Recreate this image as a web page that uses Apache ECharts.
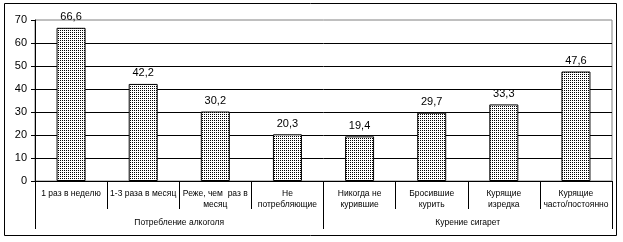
<!DOCTYPE html>
<html><head><meta charset="utf-8">
<script src="https://cdn.jsdelivr.net/npm/echarts@6/dist/echarts.min.js"></script>
<style>html,body{margin:0;padding:0;background:#fff;}#c{width:623px;height:242px;}</style>
</head><body><div id="c"></div>
<script>
const categories = ["1 раз в неделю","1-3 раза в месяц","Реже, чем  раз в\nмесяц","Не\nпотребляющие","Никогда не\nкурившие","Бросившие\nкурить","Курящие\nизредка","Курящие\nчасто/постоянно"];
const groups = ["Потребление алкоголя","Курение сигарет"];
const values = [66.6, 42.2, 30.2, 20.3, 19.4, 29.7, 33.3, 47.6];
const yTicks = {min:0, max:70, interval:10};

const pc = document.createElement('canvas');
pc.width = 2; pc.height = 2;
const ctx = pc.getContext('2d');
ctx.fillStyle = '#fff'; ctx.fillRect(0,0,2,2);
ctx.fillStyle = '#000'; ctx.fillRect(0,0,1,1);

const font = '"Liberation Sans", Arial, sans-serif';
const chart = echarts.init(document.getElementById('c'), null, {renderer:'canvas'});
chart.setOption({
  animation:false,
  backgroundColor:'#fff',
  graphic:[{type:'rect', shape:{x:4.5,y:3.5,width:612,height:232}, style:{fill:'none',stroke:'#000',lineWidth:1}, silent:true}],
  grid:{left:35, right:11, top:20, bottom:61, show:true, borderColor:'#808080', borderWidth:1},
  xAxis:[{
    type:'category', data:categories, position:'bottom',
    axisLine:{show:true, lineStyle:{color:'#000', width:1}},
    axisTick:{show:true, length:28, interval:0, lineStyle:{color:'#000'}},
    axisLabel:{interval:0, margin:7, fontSize:8.5, color:'#000', fontFamily:font, lineHeight:11}
  },{
    type:'category', data:groups, position:'bottom',
    axisLine:{show:false},
    axisTick:{show:true, length:48, interval:0, lineStyle:{color:'#000'}},
    axisLabel:{interval:0, margin:37, fontSize:8.5, color:'#000', fontFamily:font}
  }],
  yAxis:{
    type:'value', min:yTicks.min, max:yTicks.max, interval:yTicks.interval,
    axisLine:{show:true, lineStyle:{color:'#000'}},
    axisTick:{show:true, length:4, lineStyle:{color:'#000'}},
    axisLabel:{fontSize:11, color:'#000', fontFamily:font, margin:8},
    splitLine:{show:true, showMaxLine:false, lineStyle:{color:'#000', width:1}}
  },
  series:[{
    type:'bar', data:values, xAxisIndex:0, barWidth:29,
    itemStyle:{color:{image:pc, repeat:'repeat'}, borderColor:'#000', borderWidth:1},
    label:{show:true, position:'top', distance:5, fontSize:11, color:'#000', fontFamily:font,
      formatter:p=>String(p.value).replace('.',',')}
  }]
});
</script></body></html>
